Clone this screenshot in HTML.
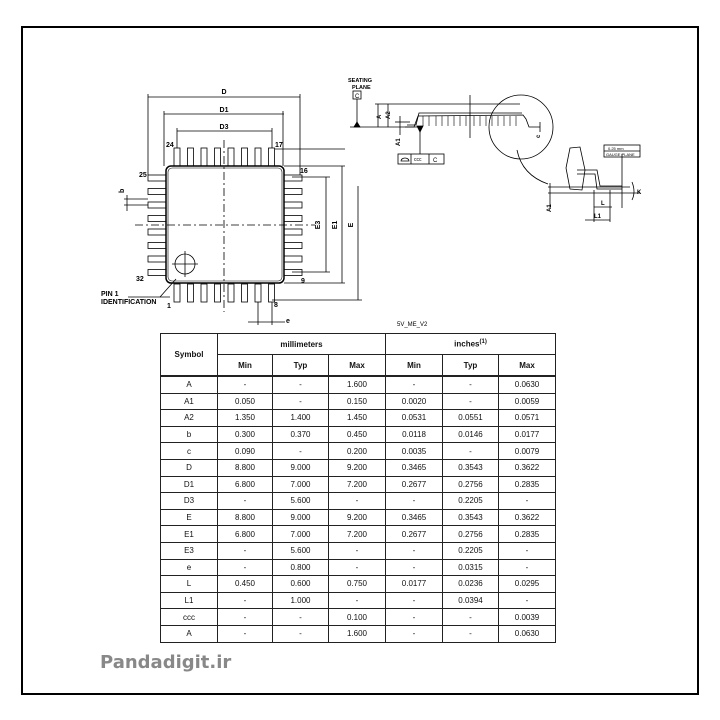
<!DOCTYPE html>
<html><head><meta charset="utf-8"><style>
body{margin:0;width:720px;height:720px;background:#fff;position:relative;overflow:hidden;font-family:"Liberation Sans",Arial,sans-serif}
#frame{position:absolute;left:21px;top:26px;width:674px;height:665px;border:2px solid #000}
table{position:absolute;left:160px;top:333px;border-collapse:collapse;font-size:8px;color:#111}
td{border:1px solid #222;text-align:center;height:15.6px;padding:0}
.h td{font-weight:bold;height:20px}
.t{border-bottom:2px solid #222}
#wm{position:absolute;left:100px;top:652px;font-size:18px;font-weight:bold;color:#888;font-family:"DejaVu Sans",sans-serif}
</style></head><body>
<div id="frame"></div>
<svg width="720" height="720" style="position:absolute;left:0;top:0" font-family="Liberation Sans, sans-serif" font-size="7" fill="none" stroke="#000" stroke-width="0.8">
<!-- body -->
<rect x="166" y="166" width="118" height="117" rx="5" stroke-width="1.5"/>
<rect x="168" y="168" width="114" height="113" rx="4" stroke-width="0.6"/>
<g id="tp">
<rect x="174" y="148" width="6" height="18"/><rect x="187.5" y="148" width="6" height="18"/><rect x="201" y="148" width="6" height="18"/><rect x="214.5" y="148" width="6" height="18"/><rect x="228" y="148" width="6" height="18"/><rect x="241.5" y="148" width="6" height="18"/><rect x="255" y="148" width="6" height="18"/><rect x="268.5" y="148" width="6" height="18"/>
</g>
<use href="#tp" transform="translate(0,136)"/>
<g id="lp">
<rect x="148" y="175" width="18" height="6"/><rect x="148" y="188.5" width="18" height="6"/><rect x="148" y="202" width="18" height="6"/><rect x="148" y="215.5" width="18" height="6"/><rect x="148" y="229" width="18" height="6"/><rect x="148" y="242.5" width="18" height="6"/><rect x="148" y="256" width="18" height="6"/><rect x="148" y="269.5" width="18" height="6"/>
</g>
<use href="#lp" transform="translate(136,0)"/>
<!-- centerlines -->
<line x1="224" y1="140" x2="224" y2="312" stroke-dasharray="8,3,2,3"/>
<line x1="135" y1="225" x2="315" y2="225" stroke-dasharray="8,3,2,3"/>
<circle cx="185" cy="264" r="10"/><line x1="172" y1="264" x2="198" y2="264"/><line x1="185" y1="251" x2="185" y2="277"/>
<line x1="128" y1="297" x2="170" y2="297"/><line x1="160" y1="297" x2="176" y2="279"/>
<!-- dims -->
<line x1="148" y1="97" x2="300" y2="97"/><line x1="148" y1="94" x2="148" y2="175"/><line x1="300" y1="94" x2="300" y2="175"/>
<line x1="164" y1="114" x2="284" y2="114"/><line x1="164" y1="111" x2="164" y2="166"/><line x1="283" y1="111" x2="283" y2="166"/>
<line x1="177" y1="131" x2="272" y2="131"/><line x1="177" y1="128" x2="177" y2="148"/><line x1="272" y1="128" x2="272" y2="148"/>
<line x1="275" y1="149" x2="345" y2="149"/>
<line x1="284" y1="166" x2="345" y2="166"/><line x1="284" y1="283" x2="345" y2="283"/>
<line x1="292" y1="177" x2="330" y2="177"/><line x1="292" y1="272" x2="330" y2="272"/>
<line x1="326" y1="177" x2="326" y2="272"/><line x1="342" y1="166" x2="342" y2="283"/>
<line x1="358" y1="186" x2="358" y2="300"/><line x1="272" y1="300" x2="362" y2="300"/>
<line x1="127" y1="195" x2="127" y2="211"/><line x1="124" y1="199" x2="148" y2="199"/><line x1="124" y1="205" x2="148" y2="205"/>
<line x1="258" y1="302" x2="258" y2="325"/><line x1="272" y1="302" x2="272" y2="325"/><line x1="248" y1="322" x2="285" y2="322"/>
<g fill="#000" stroke="none" font-weight="bold">
<text x="224" y="94" text-anchor="middle">D</text><text x="224" y="112" text-anchor="middle">D1</text><text x="224" y="129" text-anchor="middle">D3</text>
<text x="166" y="147">24</text><text x="275" y="147">17</text><text x="139" y="177">25</text><text x="300" y="173">16</text>
<text x="136" y="281">32</text><text x="301" y="283">9</text><text x="167" y="308">1</text><text x="274" y="307">8</text>
<text x="286" y="323">e</text>
<text x="101" y="296">PIN 1</text><text x="101" y="304">IDENTIFICATION</text>
<text transform="translate(320,225) rotate(-90)" text-anchor="middle">E3</text>
<text transform="translate(337,225) rotate(-90)" text-anchor="middle">E1</text>
<text transform="translate(353,225) rotate(-90)" text-anchor="middle">E</text>
<text transform="translate(124,193) rotate(-90)">b</text>
<text x="397" y="326" font-weight="normal" font-size="6">5V_ME_V2</text>
<text x="348" y="82" font-size="5.5">SEATING</text><text x="352" y="89" font-size="5.5">PLANE</text>
</g>
<!-- side view -->
<rect x="353" y="91" width="8" height="8"/><text x="355" y="98" fill="#000" stroke="none" font-size="6">C</text>
<line x1="357" y1="99" x2="357" y2="127"/><path d="M354 127 L357 122 L360 127Z" fill="#000"/>
<line x1="350" y1="127" x2="420" y2="127"/>
<line x1="375" y1="104" x2="520" y2="104"/>
<line x1="378" y1="104" x2="378" y2="127"/><line x1="388" y1="104" x2="388" y2="127"/>
<line x1="400" y1="116" x2="400" y2="135"/><line x1="395" y1="122" x2="410" y2="122"/>
<path d="M405 127 L414 127 L418 116 L523 115 L526 119 L529 127 L540 127"/>
<path d="M407 125 L416 125 L419 113 L522 113"/>
<line x1="470" y1="95" x2="470" y2="138"/>
<g stroke-width="0.6"><path d="M423 116v10M429 116v10M436 116v10M442 116v10M448 116v10M454 116v10M460 116v10M466 116v10M474 116v10M480 116v10M486 116v10M492 116v10M498 116v10M504 116v10M510 116v10M516 116v10"/></g>
<line x1="420" y1="127" x2="420" y2="154"/><path d="M417 126 L420 132 L423 126Z" fill="#000"/>
<rect x="398" y="154" width="46" height="10"/><line x1="411" y1="154" x2="411" y2="164"/><line x1="429" y1="154" x2="429" y2="164"/>
<text x="414" y="161" fill="#000" stroke="none" font-size="5">ccc</text><text x="433" y="162" fill="#000" stroke="none" font-size="6">C</text>
<path d="M401 161 h8 a4 3 0 0 0 -8 0z"/>
<line x1="540" y1="122" x2="540" y2="132"/>
<circle cx="521" cy="127" r="32"/>
<path d="M517 150 Q522 175 548 184"/>
<!-- detail -->
<path d="M570 148 L580 147 L585 170 L582 190 L570 189 L566 168Z"/>
<path d="M577 170 L597 170 L600 186 L622 186"/><path d="M577 174 L595 174 L597 189 L622 189"/>
<line x1="548" y1="187" x2="630" y2="187"/><line x1="548" y1="193" x2="640" y2="193"/>
<line x1="550" y1="183" x2="550" y2="208"/>
<line x1="622" y1="154" x2="622" y2="208"/>
<rect x="604" y="145" width="36" height="12"/><line x1="604" y1="151" x2="640" y2="151"/>
<text x="608" y="150" fill="#000" stroke="none" font-size="4">0.25 mm</text><text x="606" y="156" fill="#000" stroke="none" font-size="4">GAUGE PLANE</text>
<line x1="594" y1="190" x2="594" y2="222"/><line x1="610" y1="190" x2="610" y2="222"/>
<line x1="594" y1="207" x2="612" y2="207"/><line x1="585" y1="220" x2="610" y2="220"/>
<path d="M632 182 Q636 192 632 200"/>
<g fill="#000" stroke="none" font-weight="bold" font-size="6"><text x="601" y="205">L</text><text x="594" y="218">L1</text><text x="637" y="194">K</text>
<text transform="translate(551,212) rotate(-90)">A1</text>
<text transform="translate(381,119) rotate(-90)">A</text><text transform="translate(390,119) rotate(-90)">A2</text>
<text transform="translate(400,146) rotate(-90)">A1</text><text transform="translate(540,138) rotate(-90)">c</text></g>
</svg>
<table>
<colgroup><col style="width:57px"><col style="width:55px"><col style="width:56px"><col style="width:57px"><col style="width:57px"><col style="width:56px"><col style="width:57px"></colgroup>
<tr class="h"><td rowspan="2" class="t">Symbol</td><td colspan="3">millimeters</td><td colspan="3">inches<sup style="font-size:6px">(1)</sup></td></tr>
<tr class="h"><td class="t">Min</td><td class="t">Typ</td><td class="t">Max</td><td class="t">Min</td><td class="t">Typ</td><td class="t">Max</td></tr>
<tr><td>A</td><td>-</td><td>-</td><td>1.600</td><td>-</td><td>-</td><td>0.0630</td></tr>
<tr><td>A1</td><td>0.050</td><td>-</td><td>0.150</td><td>0.0020</td><td>-</td><td>0.0059</td></tr>
<tr><td>A2</td><td>1.350</td><td>1.400</td><td>1.450</td><td>0.0531</td><td>0.0551</td><td>0.0571</td></tr>
<tr><td>b</td><td>0.300</td><td>0.370</td><td>0.450</td><td>0.0118</td><td>0.0146</td><td>0.0177</td></tr>
<tr><td>c</td><td>0.090</td><td>-</td><td>0.200</td><td>0.0035</td><td>-</td><td>0.0079</td></tr>
<tr><td>D</td><td>8.800</td><td>9.000</td><td>9.200</td><td>0.3465</td><td>0.3543</td><td>0.3622</td></tr>
<tr><td>D1</td><td>6.800</td><td>7.000</td><td>7.200</td><td>0.2677</td><td>0.2756</td><td>0.2835</td></tr>
<tr><td>D3</td><td>-</td><td>5.600</td><td>-</td><td>-</td><td>0.2205</td><td>-</td></tr>
<tr><td>E</td><td>8.800</td><td>9.000</td><td>9.200</td><td>0.3465</td><td>0.3543</td><td>0.3622</td></tr>
<tr><td>E1</td><td>6.800</td><td>7.000</td><td>7.200</td><td>0.2677</td><td>0.2756</td><td>0.2835</td></tr>
<tr><td>E3</td><td>-</td><td>5.600</td><td>-</td><td>-</td><td>0.2205</td><td>-</td></tr>
<tr><td>e</td><td>-</td><td>0.800</td><td>-</td><td>-</td><td>0.0315</td><td>-</td></tr>
<tr><td>L</td><td>0.450</td><td>0.600</td><td>0.750</td><td>0.0177</td><td>0.0236</td><td>0.0295</td></tr>
<tr><td>L1</td><td>-</td><td>1.000</td><td>-</td><td>-</td><td>0.0394</td><td>-</td></tr>
<tr><td>ccc</td><td>-</td><td>-</td><td>0.100</td><td>-</td><td>-</td><td>0.0039</td></tr>
<tr><td>A</td><td>-</td><td>-</td><td>1.600</td><td>-</td><td>-</td><td>0.0630</td></tr>
</table>
<div id="wm">Pandadigit.ir</div>
</body></html>
